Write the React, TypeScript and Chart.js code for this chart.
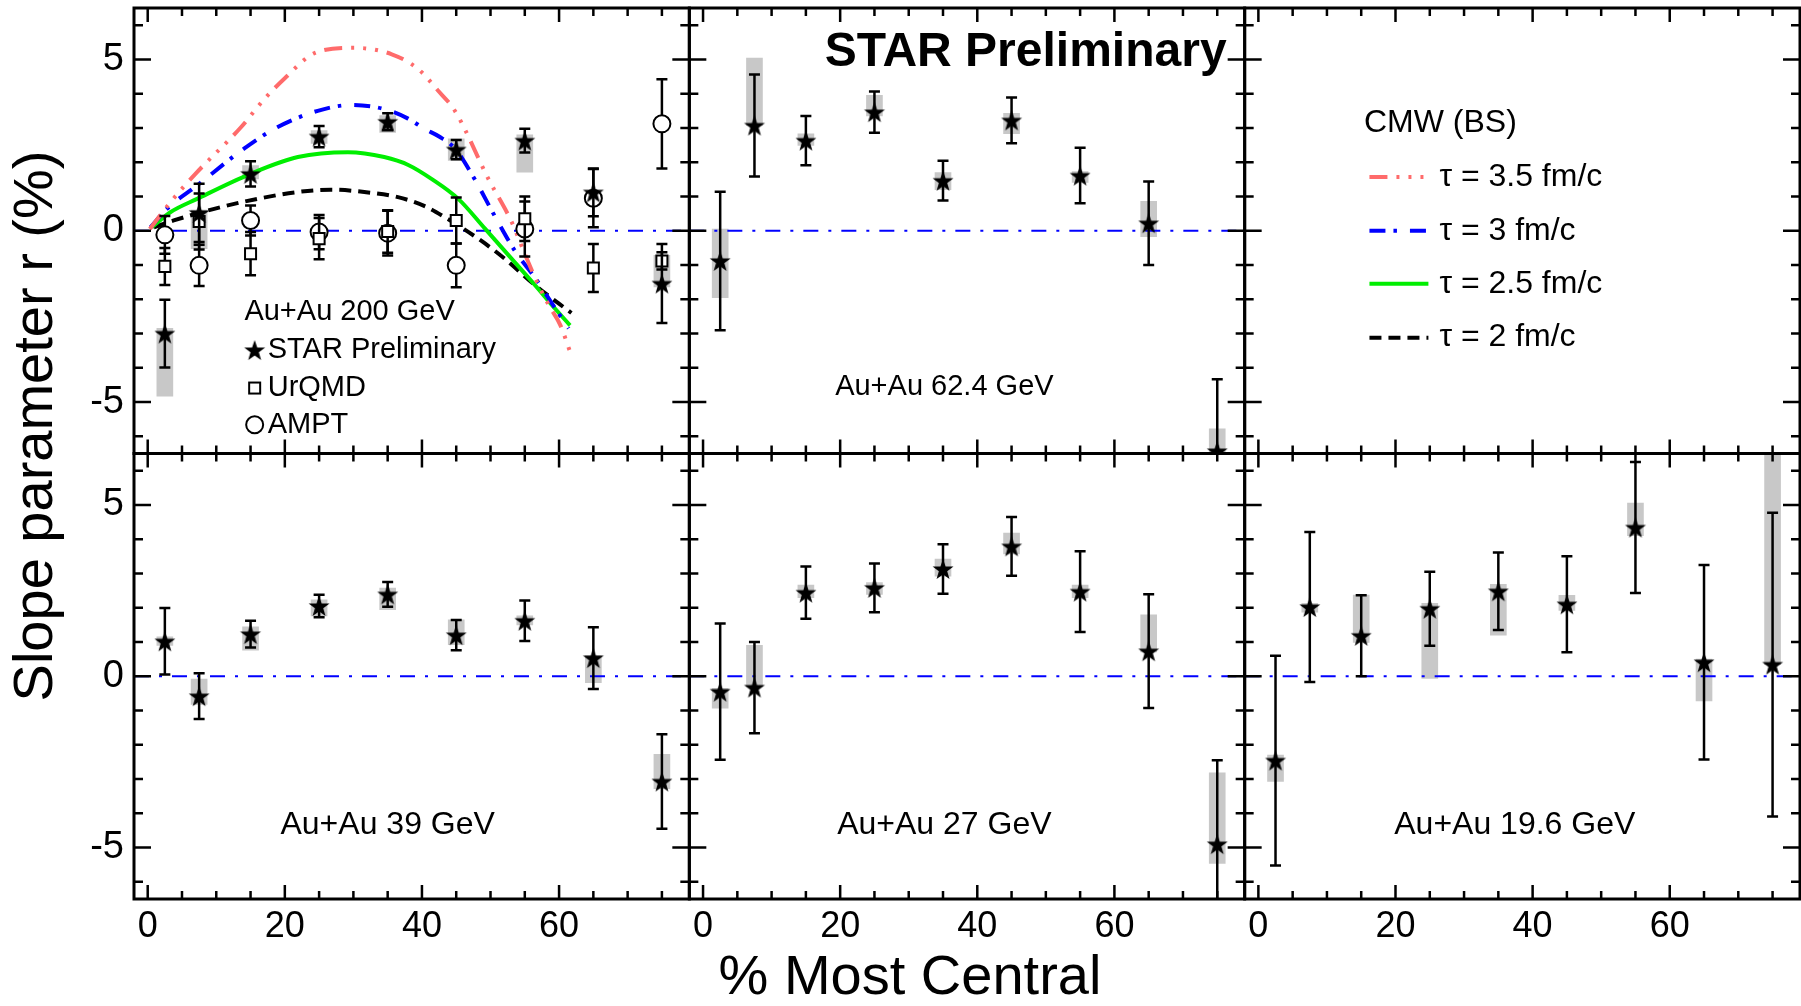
import React, { useEffect, useRef } from 'react';
import { Chart, registerables } from 'chart.js';

Chart.register(...registerables);

const FONT = '"Liberation Sans", Arial, Helvetica, sans-serif';

// ---------- axes ----------
const X_MIN = -2;
const X_MAX = 79;
const Y_MIN = -6.5;
const Y_MAX = 6.5;
const xTickLabels = [0, 20, 40, 60];
const yTickLabels = [-5, 0, 5];

// centrality bin centres (% most central)
const centrality = [2.5, 7.5, 15, 25, 35, 45, 55, 65, 75];

// ---------- Au+Au 200 GeV ----------
const star200 = [-3.0, 0.52, 1.66, 2.75, 3.18, 2.37, 2.63, 1.12, -1.54];
const star200Err = [0.99, 0.85, 0.37, 0.31, 0.25, 0.28, 0.35, 0.7, 1.15];
const star200SysLo = [-4.83, -0.52, 1.51, 2.55, 2.87, 2.05, 1.71, 1.12, -1.64];
const star200SysHi = [-2.85, 0.6, 1.9, 2.92, 3.36, 2.68, 2.8, 1.12, -0.72];
const urqmd200 = [-1.04, 0.27, -0.67, -0.23, -0.02, 0.3, 0.35, -1.09, -0.88];
const urqmd200Err = [0.54, 0.82, 0.63, 0.6, 0.62, 0.67, 0.65, 0.7, 0.25];
const ampt200 = [-0.12, -1.01, 0.3, -0.04, -0.07, -1.01, 0.05, 0.95, 3.12];
const ampt200Err = [0.55, 0.6, 0.44, 0.5, 0.65, 0.64, 0.8, 0.85, 1.3];

// ---------- Au+Au 62.4 GeV ----------
const star62 = [-0.88, 3.07, 2.63, 3.46, 1.46, 3.22, 1.61, 0.22, -6.43];
const star62Err = [2.02, 1.49, 0.72, 0.6, 0.58, 0.67, 0.81, 1.22, 2.1];
const star62SysLo = [-1.95, 3.07, 2.49, 3.35, 1.2, 2.83, 1.41, -0.17, -7.2];
const star62SysHi = [0.05, 5.04, 2.83, 3.95, 1.7, 3.43, 1.73, 0.86, -5.78];

// ---------- Au+Au 39 GeV ----------
const star39 = [1.02, -0.58, 1.23, 2.05, 2.39, 1.2, 1.62, 0.53, -3.07];
const star39Err = [0.97, 0.67, 0.39, 0.33, 0.36, 0.44, 0.59, 0.9, 1.38];
const star39SysLo = [0.9, -0.82, 0.76, 1.76, 1.94, 0.92, 1.5, -0.19, -3.28];
const star39SysHi = [1.15, -0.08, 1.44, 2.23, 2.57, 1.65, 1.76, 0.6, -2.28];

// ---------- Au+Au 27 GeV ----------
const star27 = [-0.45, -0.33, 2.44, 2.58, 3.13, 3.79, 2.47, 0.73, -4.9];
const star27Err = [1.99, 1.33, 0.76, 0.71, 0.72, 0.86, 1.18, 1.66, 2.45];
const star27SysLo = [-0.93, -0.3, 2.29, 2.39, 2.92, 3.57, 2.29, 0.71, -5.46];
const star27SysHi = [-0.35, 0.9, 2.66, 2.73, 3.42, 4.18, 2.66, 1.79, -2.82];

// ---------- Au+Au 19.6 GeV ----------
const star19 = [-2.46, 2.02, 1.18, 1.97, 2.48, 2.1, 4.34, 0.41, 0.34];
const star19Err = [3.06, 2.19, 1.18, 1.08, 1.13, 1.4, 1.91, 2.84, 4.43];
const star19SysLo = [-3.07, 1.87, 0.99, -0.06, 1.2, 1.92, 4.1, -0.72, 0.34];
const star19SysHi = [-2.3, 2.13, 2.37, 2.13, 2.68, 2.36, 5.05, 0.5, 6.6];

// ---------- CMW (BS) calculations, 200 GeV ----------
const cmw35X = [0.3, 3.3, 7.2, 13.6, 17, 20, 24.4, 30, 35.6, 39.5, 42.3, 44.8, 49.7, 53.1, 55.3, 57, 58.5, 60.2, 61.6];
const cmw35Y = [0.05, 0.83, 1.71, 3.02, 3.84, 4.45, 5.19, 5.34, 5.15, 4.71, 4.1, 3.5, 1.51, 0.25, -0.82, -1.59, -2.17, -2.76, -3.53];
const cmw3X = [0.4, 2.8, 7.2, 14, 18.9, 24.8, 29.7, 34.5, 37.9, 40.4, 42.5, 44.8, 47.7, 50.7, 53.6, 56.6, 58.5, 61.4];
const cmw3Y = [0.1, 0.64, 1.32, 2.39, 3.02, 3.5, 3.67, 3.55, 3.28, 2.97, 2.75, 2.4, 1.5, 0.4, -0.6, -1.4, -1.98, -2.85];
const cmw25X = [0.6, 3.3, 7.2, 15, 21.9, 29.2, 34.5, 38, 41.5, 45.3, 49.2, 53.1, 56.5, 59.4, 61.6];
const cmw25Y = [0.1, 0.54, 0.93, 1.66, 2.15, 2.29, 2.15, 1.92, 1.5, 0.93, 0.06, -0.82, -1.59, -2.27, -2.76];
const cmw2X = [0.9, 3.8, 9.7, 16, 21.9, 26.7, 31.6, 36.5, 40.4, 43.3, 48.2, 52.1, 56.5, 61.8];
const cmw2Y = [0.1, 0.3, 0.64, 0.93, 1.13, 1.2, 1.13, 0.98, 0.72, 0.4, -0.23, -0.82, -1.59, -2.4];

const cmwLabels = ['τ = 3.5 fm/c', 'τ = 3 fm/c', 'τ = 2.5 fm/c', 'τ = 2 fm/c'];
const cmwColors = ['#ff6b6b', '#0000ff', '#00ee00', '#000000'];
const cmwDashes = [[18, 9, 3, 9, 3, 9, 3, 9], [16, 8, 3.5, 13], [], [12, 7]];

const panelLabels = ['Au+Au 200 GeV', 'Au+Au 62.4 GeV', '', 'Au+Au 39 GeV', 'Au+Au 27 GeV', 'Au+Au 19.6 GeV'];

const xIds = ['x0', 'x1', 'x2'];
const yIds = ['yT', 'yB'];

const SYS_COLOR = '#c8c8c8';
const ZERO_DASH = [15, 10, 3, 10];

function makeStarImage(r: number) {
  const s = Math.ceil(r * 2 + 4);
  const c = document.createElement('canvas');
  c.width = s;
  c.height = s;
  const g = c.getContext('2d')!;
  g.fillStyle = '#000';
  g.beginPath();
  for (let i = 0; i < 10; i++) {
    const a = -Math.PI / 2 + (i * Math.PI) / 5;
    const rr = i % 2 === 0 ? r : r * 0.4;
    g.lineTo(s / 2 + rr * Math.cos(a), s / 2 + 1 + rr * Math.sin(a));
  }
  g.closePath();
  g.fill();
  return c;
}

function pts(xs: number[], ys: number[]) {
  return xs.map((x, i) => ({ x, y: ys[i] }));
}

function makeXScale() {
  return {
    type: 'linear',
    position: 'bottom',
    stack: 'columns',
    stackWeight: 1,
    min: X_MIN,
    max: X_MAX,
    offset: false,
    grid: { display: false, drawTicks: false },
    border: { display: false },
    ticks: {
      autoSkip: false,
      maxRotation: 0,
      color: '#000',
      padding: 6,
      font: { family: FONT, size: 36 },
      callback: (v: any) => String(v),
    },
    afterBuildTicks: (s: any) => {
      s.ticks = xTickLabels.map((v) => ({ value: v }));
    },
    afterFit: (s: any) => {
      s.height = 107;
      s.paddingLeft = 0;
      s.paddingRight = 0;
      s.paddingTop = 0;
      s.paddingBottom = 0;
    },
  };
}

function makeYScale() {
  return {
    type: 'linear',
    position: 'left',
    stack: 'rows',
    stackWeight: 1,
    min: Y_MIN,
    max: Y_MAX,
    grid: { display: false, drawTicks: false },
    border: { display: false },
    ticks: {
      color: '#000',
      padding: 10,
      font: { family: FONT, size: 38 },
      callback: (v: any) => String(v),
    },
    afterBuildTicks: (s: any) => {
      s.ticks = yTickLabels.map((v) => ({ value: v }));
    },
    afterFit: (s: any) => {
      s.width = 134;
      s.paddingLeft = 0;
      s.paddingRight = 0;
      s.paddingTop = 0;
      s.paddingBottom = 0;
    },
  };
}

export default function App() {
  const ref = useRef<HTMLCanvasElement | null>(null);

  useEffect(() => {
    const canvas = ref.current;
    if (!canvas) return;
    const starImg = makeStarImage(11);

    const datasets: any[] = [];

    const addStarPanel = (xId: string, yId: string, vals: number[], errs: number[], lo: number[], hi: number[]) => {
      datasets.push({
        type: 'bar',
        xAxisID: xId,
        yAxisID: yId,
        grouped: false,
        barThickness: 16,
        backgroundColor: SYS_COLOR,
        borderWidth: 0,
        order: 10,
        data: centrality.map((x, i) => ({ x, y: [lo[i], hi[i]] })),
      });
      datasets.push({
        type: 'scatter',
        xAxisID: xId,
        yAxisID: yId,
        pointStyle: starImg,
        pointRadius: 10,
        order: 1,
        errors: errs,
        data: pts(centrality, vals),
      });
    };

    // zero lines in the data panels
    const zeroPanels = [['x0', 'yT'], ['x1', 'yT'], ['x0', 'yB'], ['x1', 'yB'], ['x2', 'yB']];
    for (const [xId, yId] of zeroPanels) {
      datasets.push({
        type: 'line',
        xAxisID: xId,
        yAxisID: yId,
        borderColor: '#0000ff',
        borderWidth: 2.2,
        borderDash: ZERO_DASH,
        pointRadius: 0,
        order: 9,
        data: [{ x: X_MIN, y: 0 }, { x: X_MAX, y: 0 }],
      });
    }

    // CMW curves (panel 1)
    const curves = [
      [cmw35X, cmw35Y],
      [cmw3X, cmw3Y],
      [cmw25X, cmw25Y],
      [cmw2X, cmw2Y],
    ];
    curves.forEach(([cx, cy], i) => {
      datasets.push({
        type: 'line',
        xAxisID: 'x0',
        yAxisID: 'yT',
        borderColor: cmwColors[i],
        borderWidth: 4,
        borderDash: cmwDashes[i],
        pointRadius: 0,
        cubicInterpolationMode: 'monotone',
        order: 8,
        data: pts(cx, cy),
      });
    });

    // models (panel 1)
    datasets.push({
      type: 'scatter',
      xAxisID: 'x0',
      yAxisID: 'yT',
      pointStyle: 'circle',
      pointRadius: 8.5,
      pointBorderWidth: 2,
      pointBorderColor: '#000',
      pointBackgroundColor: '#fff',
      order: 3,
      errors: ampt200Err,
      data: pts(centrality, ampt200),
    });
    datasets.push({
      type: 'scatter',
      xAxisID: 'x0',
      yAxisID: 'yT',
      pointStyle: 'rect',
      pointRadius: 7.8,
      pointBorderWidth: 2,
      pointBorderColor: '#000',
      pointBackgroundColor: '#fff',
      order: 2,
      errors: urqmd200Err,
      data: pts(centrality, urqmd200),
    });

    addStarPanel('x0', 'yT', star200, star200Err, star200SysLo, star200SysHi);
    addStarPanel('x1', 'yT', star62, star62Err, star62SysLo, star62SysHi);
    addStarPanel('x0', 'yB', star39, star39Err, star39SysLo, star39SysHi);
    addStarPanel('x1', 'yB', star27, star27Err, star27SysLo, star27SysHi);
    addStarPanel('x2', 'yB', star19, star19Err, star19SysLo, star19SysHi);

    const text = (ctx: CanvasRenderingContext2D, s: string, x: number, y: number, size: number, align: CanvasTextAlign = 'left', bold = false) => {
      ctx.font = `${bold ? 'bold ' : ''}${size}px ${FONT}`;
      ctx.fillStyle = '#000';
      ctx.textAlign = align;
      ctx.textBaseline = 'middle';
      ctx.fillText(s, x, y);
    };

    const decor = {
      id: 'decor',
      beforeDatasetDraw(chart: any, args: any) {
        const ds = chart.data.datasets[args.index];
        if (!ds.errors) return;
        const xs = args.meta.xScale;
        const ys = args.meta.yScale;
        const ctx = chart.ctx as CanvasRenderingContext2D;
        ctx.save();
        ctx.beginPath();
        ctx.rect(xs.left, ys.top, xs.right - xs.left, ys.bottom - ys.top);
        ctx.clip();
        ctx.strokeStyle = '#000';
        ctx.lineWidth = 2.5;
        ds.data.forEach((p: any, i: number) => {
          const e = ds.errors[i];
          const px = xs.getPixelForValue(p.x);
          const y1 = ys.getPixelForValue(p.y + e);
          const y2 = ys.getPixelForValue(p.y - e);
          ctx.beginPath();
          ctx.moveTo(px, y1);
          ctx.lineTo(px, y2);
          ctx.moveTo(px - 5.5, y1);
          ctx.lineTo(px + 5.5, y1);
          ctx.moveTo(px - 5.5, y2);
          ctx.lineTo(px + 5.5, y2);
          ctx.stroke();
        });
        ctx.restore();
      },
      afterDatasetsDraw(chart: any) {
        const ctx = chart.ctx as CanvasRenderingContext2D;
        ctx.save();
        ctx.strokeStyle = '#000';
        for (const yId of yIds) {
          const ys = chart.scales[yId];
          for (const xId of xIds) {
            const xs = chart.scales[xId];
            ctx.lineWidth = 2.5;
            ctx.beginPath();
            for (let v = 0; v <= 75; v += 5) {
              const px = xs.getPixelForValue(v);
              const len = v % 20 === 0 ? 14 : 8;
              ctx.moveTo(px, ys.bottom);
              ctx.lineTo(px, ys.bottom - len);
              ctx.moveTo(px, ys.top);
              ctx.lineTo(px, ys.top + len);
            }
            for (let v = -6; v <= 6; v += 1) {
              const py = ys.getPixelForValue(v);
              const len = v % 5 === 0 ? 17 : 9;
              ctx.moveTo(xs.left, py);
              ctx.lineTo(xs.left + len, py);
              ctx.moveTo(xs.right, py);
              ctx.lineTo(xs.right - len, py);
            }
            ctx.stroke();
            ctx.lineWidth = 3;
            ctx.strokeRect(xs.left, ys.top, xs.right - xs.left, ys.bottom - ys.top);
          }
        }
        ctx.restore();
      },
      afterDraw(chart: any) {
        const ctx = chart.ctx as CanvasRenderingContext2D;
        const S = chart.scales;
        const P = (xId: string, yId: string, x: number, y: number) => [S[xId].getPixelForValue(x), S[yId].getPixelForValue(y)];
        ctx.save();

        // panel 1 labels + marker legend
        let [px, py] = P('x0', 'yT', 14.1, -2.38);
        text(ctx, panelLabels[0], px, py, 29);
        const mx = S.x0.getPixelForValue(15.6);
        const tx = S.x0.getPixelForValue(17.5);
        const rows = [-3.48, -4.59, -5.66].map((v) => S.yT.getPixelForValue(v));
        ctx.drawImage(starImg, mx - starImg.width / 2, rows[0] - starImg.height / 2);
        text(ctx, 'STAR Preliminary', tx, rows[0], 29);
        ctx.lineWidth = 2;
        ctx.strokeStyle = '#000';
        ctx.fillStyle = '#fff';
        ctx.fillRect(mx - 5.5, rows[1] - 5.5, 11, 11);
        ctx.strokeRect(mx - 5.5, rows[1] - 5.5, 11, 11);
        text(ctx, 'UrQMD', tx, rows[1], 29);
        ctx.beginPath();
        ctx.arc(mx, rows[2], 8.5, 0, Math.PI * 2);
        ctx.fillStyle = '#fff';
        ctx.fill();
        ctx.stroke();
        text(ctx, 'AMPT', tx, rows[2], 29);

        // panel 2
        [px, py] = P('x1', 'yT', 47.05, 5.2);
        text(ctx, 'STAR Preliminary', px, py, 48, 'center', true);
        [px, py] = P('x1', 'yT', 35.2, -4.55);
        text(ctx, panelLabels[1], px, py, 29, 'center');

        // panel 3 legend
        [px, py] = P('x2', 'yT', 15.4, 3.15);
        text(ctx, 'CMW (BS)', px, py, 32);
        const l0 = S.x2.getPixelForValue(16.2);
        const l1 = S.x2.getPixelForValue(24.8);
        const lt = S.x2.getPixelForValue(26.4);
        [1.57, 0, -1.55, -3.12].forEach((v, i) => {
          const y = S.yT.getPixelForValue(v);
          ctx.save();
          ctx.strokeStyle = cmwColors[i];
          ctx.lineWidth = 4;
          ctx.setLineDash(cmwDashes[i]);
          ctx.beginPath();
          ctx.moveTo(l0, y);
          ctx.lineTo(l1, y);
          ctx.stroke();
          ctx.restore();
          text(ctx, cmwLabels[i], lt, y, 32);
        });

        // bottom row labels
        [px, py] = P('x0', 'yB', 35.0, -4.35);
        text(ctx, panelLabels[3], px, py, 32, 'center');
        [px, py] = P('x1', 'yB', 35.2, -4.35);
        text(ctx, panelLabels[4], px, py, 32, 'center');
        [px, py] = P('x2', 'yB', 37.4, -4.35);
        text(ctx, panelLabels[5], px, py, 32, 'center');

        // axis titles
        ctx.save();
        ctx.translate(37, 426);
        ctx.rotate(-Math.PI / 2);
        text(ctx, 'Slope parameter r (%)', 0, 0, 56, 'center');
        ctx.restore();
        text(ctx, '% Most Central', 910, 979, 56, 'center');

        ctx.restore();
      },
    };

    const config: any = {
      type: 'scatter',
      data: { datasets },
      options: {
        responsive: false,
        animation: false,
        devicePixelRatio: 1,
        events: [],
        layout: { autoPadding: false, padding: { left: 0, top: 8, right: 1, bottom: 0 } },
        plugins: { legend: { display: false }, tooltip: { enabled: false } },
        scales: {
          x0: makeXScale(),
          x1: makeXScale(),
          x2: makeXScale(),
          yB: makeYScale(),
          yT: makeYScale(),
        },
      },
      plugins: [decor],
    };

    const chart = new Chart(canvas, config);
    return () => chart.destroy();
  }, []);

  return (
    <div style={{ position: 'absolute', left: 0, top: 0, width: 1801, height: 1006, background: '#fff' }}>
      <canvas ref={ref} width={1801} height={1006} style={{ display: 'block' }} />
    </div>
  );
}
